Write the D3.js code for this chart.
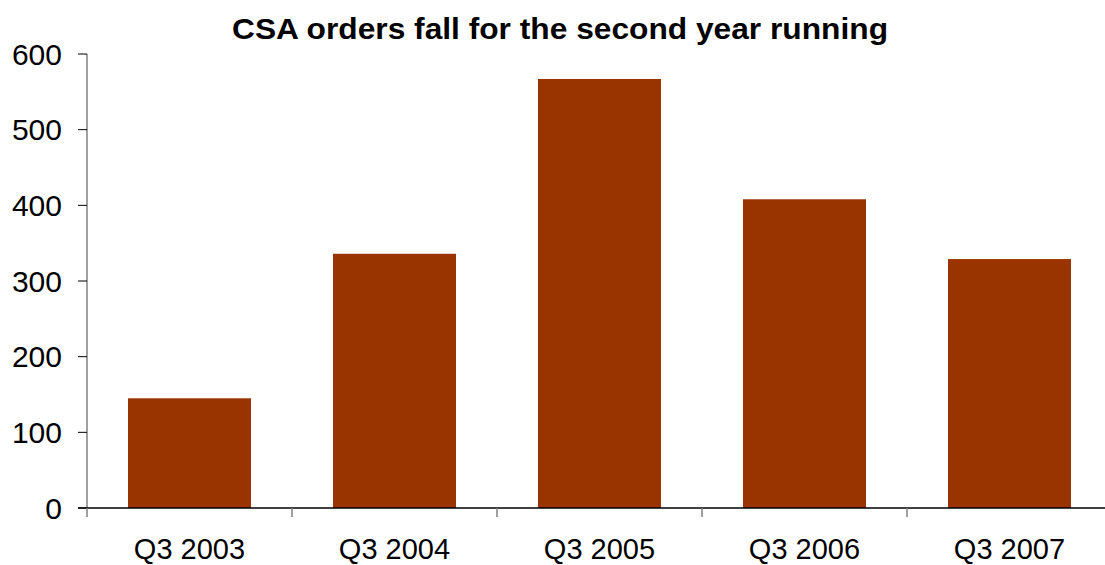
<!DOCTYPE html>
<html>
<head>
<meta charset="utf-8">
<script src="https://cdn.jsdelivr.net/npm/d3@7"></script>
<style>
  body { margin: 0; background: #fff; }
  text { font-family: "Liberation Sans", Arial, sans-serif; fill: #000; }
</style>
</head>
<body>
<div id="vis"></div>
<script>
    // chart data
    var categories = ['Q3 2003', 'Q3 2004', 'Q3 2005', 'Q3 2006', 'Q3 2007'];
    var orders = [145, 336, 567, 408, 329];
    var yTicks = [0, 100, 200, 300, 400, 500, 600];
    var title = 'CSA orders fall for the second year running';

    var svgW = 1105;
    var svgH = 565;
    // plot area (don't call these top/left, window.top is taken)
    var plotL = 87, plotR = 1112, plotT = 54, plotB = 508;

    var svg = d3.select('#vis').append('svg').attr('width', svgW).attr('height', svgH);
    var g = svg.append('g');

    var y = d3.scaleLinear().domain([0, 600]).range([plotB, plotT]);
    // bands for the bars (gap like excel's)
    var x = d3.scaleBand().domain(categories).range([plotL, plotR]).paddingInner(0.4).paddingOuter(0.2);
    // bands without padding for the category tick marks
    var xb = d3.scaleBand().domain(categories).range([plotL, plotR]);

    //bars
    g.selectAll('.bar').data(orders).enter().append('rect')
        .attr('class', 'bar')
        .attr('x', function(d, i){ return x(categories[i]); })
        .attr('y', function(d){ return y(d); })
        .attr('width', x.bandwidth())
        .attr('height', function(d){ return plotB - y(d); })
        .style('fill', '#993300');

    //y axis line
    g.append('line').attr('x1', plotL).attr('x2', plotL).attr('y1', plotT).attr('y2', plotB)
        .attr('stroke', '#808080').attr('stroke-width', 1.5);

    //y ticks + labels
    g.selectAll('.yTick').data(yTicks).enter().append('line').attr('class', 'yTick')
        .attr('x1', plotL - 9).attr('x2', plotL)
        .attr('y1', function(d){ return y(d); }).attr('y2', function(d){ return y(d); })
        .attr('stroke', '#000').attr('stroke-width', 1);

    g.selectAll('.yLabel').data(yTicks).enter().append('text').attr('class', 'yLabel')
        .text(String)
        .attr('x', 62).attr('y', function(d){ return y(d); })
        .attr('dy', '0.36em')
        .attr('text-anchor', 'end')
        .style('font-size', '30px');

    //x axis line
    g.append('line').attr('x1', plotL - 9).attr('x2', svgW).attr('y1', plotB).attr('y2', plotB)
        .attr('stroke', '#000').attr('stroke-width', 1.5);

    //x tick marks at band edges
    var edges = categories.map(function(c){ return xb(c); });
    g.selectAll('.xTick').data(edges).enter().append('line').attr('class', 'xTick')
        .attr('x1', function(d){ return d; }).attr('x2', function(d){ return d; })
        .attr('y1', plotB).attr('y2', plotB + 9)
        .attr('stroke', '#808080').attr('stroke-width', 1.5);

    //category labels
    g.selectAll('.xLabel').data(categories).enter().append('text').attr('class', 'xLabel')
        .text(function(d){ return d; })
        .attr('x', function(d){ return x(d) + x.bandwidth() / 2; })
        .attr('y', 559)
        .attr('text-anchor', 'middle')
        .style('font-size', '29px');

    //title
    g.append('text').text(title)
        .attr('x', 560).attr('y', 39)
        .attr('text-anchor', 'middle')
        .attr('textLength', 656).attr('lengthAdjust', 'spacingAndGlyphs')
        .style('font-size', '30px').style('font-weight', 'bold');
</script>
</body>
</html>
